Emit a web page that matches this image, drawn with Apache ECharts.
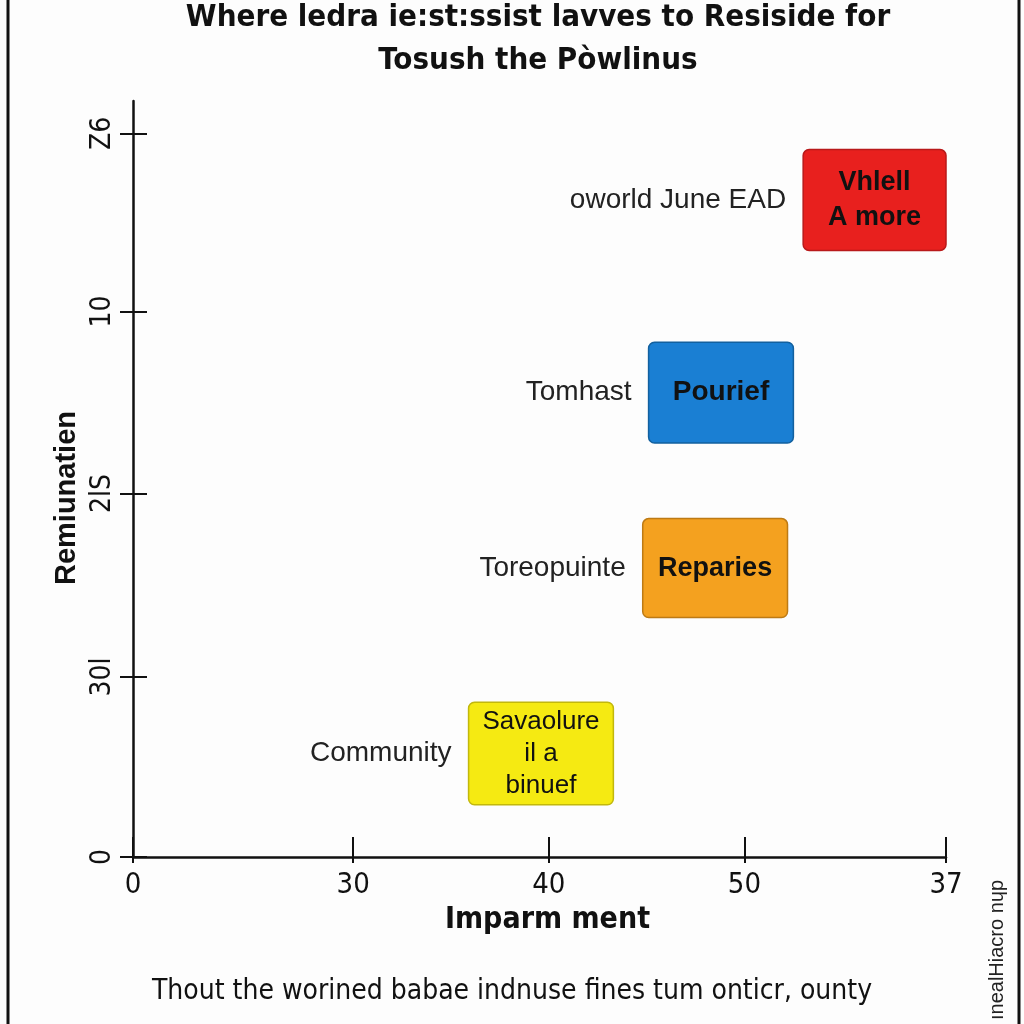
<!DOCTYPE html>
<html>
<head>
<meta charset="utf-8">
<script src="https://cdn.jsdelivr.net/npm/echarts@6/dist/echarts.min.js"></script>
<style>
  html, body { margin: 0; padding: 0; background: #fdfdfd; }
  #container { width: 1024px; height: 1024px; }
</style>
</head>
<body>
<div id="container"></div>
<script>
// data
var categories = ['oworld June EAD', 'Tomhast', 'Toreopuinte', 'Community'];
var boxTexts = ['Vhlell\nA more', 'Pourief', 'Reparies', 'Savaolure\nil a\nbinuef'];
var xStart = [53.0, 45.1, 44.8, 35.9];
var xEnd = [60.3, 52.5, 52.2, 43.3];
var yLow = [3.37, 2.30, 1.33, 0.29];
var yHigh = [3.93, 2.86, 1.88, 0.86];

var xTickValues = [18.75, 30, 40, 50, 60.3];
var xTickLabels = ['0', '30', '40', '50', '37'];
var yTickValues = [0, 1, 2.02, 3.03, 4.02];
var yTickLabels = ['0', '30l', '2lS', '10', 'Z6'];

var boxColors = ['#e8201e', '#1a7fd3', '#f4a11f', '#f5ea12'];
var boxBorders = ['#b9191a', '#12609f', '#bd7a14', '#c2b80c'];
var boxFonts = ['bold 27px', 'bold 28px', 'bold 27px', '26px'];

var dom = document.getElementById('container');
var myChart = echarts.init(dom);

var boxData = [];
for (var i = 0; i < categories.length; i++) {
    boxData.push([xStart[i], xEnd[i], yLow[i], yHigh[i], i]);
}

function labelFor(values, labels) {
    return function (v) {
        for (var k = 0; k < values.length; k++) {
            if (Math.abs(values[k] - v) < 1e-6) return labels[k];
        }
        return '';
    };
}

var narrow = '"Liberation Sans Narrow", "DejaVu Sans Condensed", sans-serif';
var arial = '"Liberation Sans", Arial, sans-serif';

var option = {
    backgroundColor: '#fdfdfd',
    animation: false,
    grid: { left: 133, right: 78, top: 101, bottom: 167 },
    xAxis: [{
        type: 'value',
        min: 18.75,
        max: 60.3,
        position: 'bottom',
        name: 'Imparm ment',
        nameLocation: 'middle',
        nameGap: 40,
        nameTextStyle: { fontFamily: narrow, fontSize: 30, fontWeight: 'bold', color: '#111', padding: [0, 0, 0, 16] },
        splitLine: { show: false },
        axisLine: { lineStyle: { color: '#111', width: 2.5 } },
        axisTick: { customValues: xTickValues, length: 6, lineStyle: { color: '#111', width: 2 } },
        axisLabel: {
            customValues: xTickValues,
            formatter: labelFor(xTickValues, xTickLabels),
            margin: 14,
            fontFamily: narrow, fontSize: 29, color: '#111'
        }
    }, {
        type: 'value',
        min: 18.75,
        max: 60.3,
        position: 'bottom',
        splitLine: { show: false },
        axisLine: { show: false },
        axisTick: { customValues: xTickValues, inside: true, length: 20, lineStyle: { color: '#111', width: 2 } },
        axisLabel: { show: false }
    }],
    yAxis: [{
        type: 'value',
        min: 0,
        max: 4.2,
        position: 'left',
        name: 'Remiunatien',
        nameLocation: 'middle',
        nameGap: 48,
        nameTextStyle: { fontFamily: arial, fontSize: 29, fontWeight: 'bold', color: '#111', padding: [0, 38, 0, 0] },
        splitLine: { show: false },
        axisLine: { lineStyle: { color: '#111', width: 2.5 } },
        axisTick: { customValues: yTickValues, length: 13, lineStyle: { color: '#111', width: 2 } },
        axisLabel: {
            customValues: yTickValues,
            formatter: labelFor(yTickValues, yTickLabels),
            rotate: 90,
            margin: 16,
            fontFamily: narrow, fontSize: 28, color: '#111'
        }
    }, {
        type: 'value',
        min: 0,
        max: 4.2,
        position: 'left',
        splitLine: { show: false },
        axisLine: { show: false },
        axisTick: { customValues: yTickValues, inside: true, length: 14, lineStyle: { color: '#111', width: 2 } },
        axisLabel: { show: false }
    }],
    graphic: [
        { type: 'line', shape: { x1: 8, y1: 0, x2: 8, y2: 1024 }, style: { stroke: '#111', lineWidth: 3 } },
        { type: 'line', shape: { x1: 1019, y1: 0, x2: 1019, y2: 1024 }, style: { stroke: '#111', lineWidth: 3 } },
        {
            type: 'text', x: 538, y: -4,
            style: {
                text: 'Where ledra ie:st:ssist lavves to Resiside for\nTosush the Pòwlinus',
                font: 'bold 31px ' + narrow, lineHeight: 43, fill: '#111',
                align: 'center', verticalAlign: 'top'
            }
        },
        {
            type: 'text', left: 'center', top: 978,
            style: { text: 'Thout the worined babae indnuse fines tum onticr, ounty', font: '28px ' + narrow, fill: '#111' }
        },
        {
            type: 'text', x: 997, y: 950, rotation: Math.PI / 2,
            style: { text: 'ınealHiacro nɥp', font: '20px ' + arial, fill: '#222', align: 'center', verticalAlign: 'middle' }
        }
    ],
    series: [{
        type: 'custom',
        xAxisIndex: 0,
        yAxisIndex: 0,
        data: boxData,
        renderItem: function (params, api) {
            var idx = api.value(4);
            var tl = api.coord([api.value(0), api.value(3)]);
            var br = api.coord([api.value(1), api.value(2)]);
            var w = br[0] - tl[0], h = br[1] - tl[1];
            var lines = boxTexts[idx].split('\n').length;
            return {
                type: 'group',
                children: [{
                    type: 'rect',
                    shape: { x: tl[0], y: tl[1], width: w, height: h, r: 6 },
                    style: { fill: boxColors[idx], stroke: boxBorders[idx], lineWidth: 1.5 }
                }, {
                    type: 'text',
                    style: {
                        x: tl[0] + w / 2, y: tl[1] + h / 2,
                        text: boxTexts[idx],
                        align: 'center', verticalAlign: 'middle',
                        font: boxFonts[idx] + ' ' + arial,
                        lineHeight: lines > 2 ? 32 : 35,
                        fill: '#111'
                    }
                }, {
                    type: 'text',
                    style: {
                        x: tl[0] - 17, y: tl[1] + h / 2,
                        text: categories[idx],
                        align: 'right', verticalAlign: 'middle',
                        font: '28px ' + arial,
                        fill: '#222'
                    }
                }]
            };
        }
    }]
};

if (option && typeof option === 'object') {
    myChart.setOption(option, true);
}
</script>
</body>
</html>
